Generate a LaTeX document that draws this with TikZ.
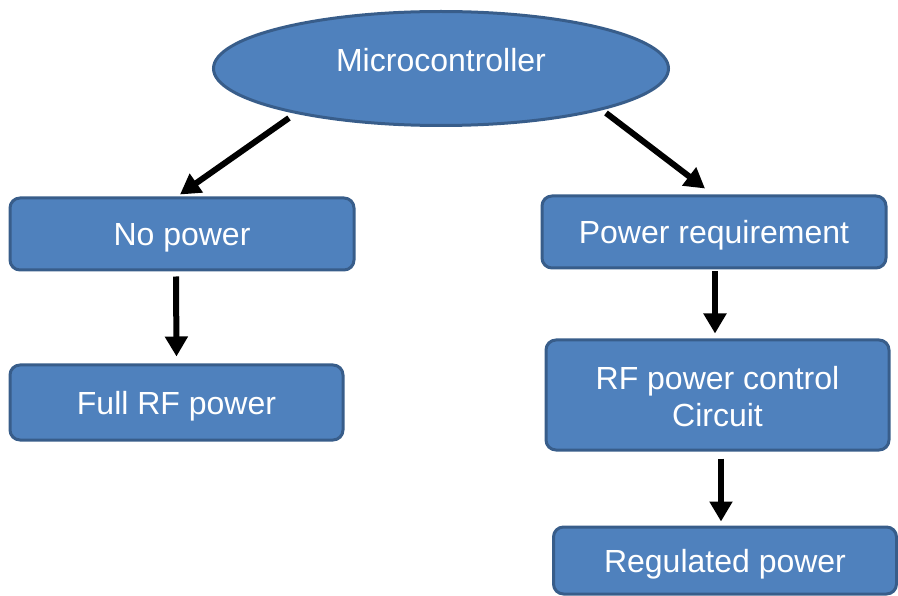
\documentclass[tikz,border=0pt]{standalone}
\usepackage{fontspec}
\setmainfont{Liberation Sans}
\usetikzlibrary{shapes.geometric,arrows.meta,calc}
\definecolor{boxfill}{HTML}{4F81BD}
\definecolor{boxline}{HTML}{385D8A}
\tikzset{
  box/.style={draw=boxline, line width=3pt, fill=boxfill, rounded corners=10pt,
    text=white, font=\fontsize{32}{37}\selectfont, align=center, inner sep=0pt,
    text height=23pt, text depth=0pt},
  oval/.style={ellipse, draw=boxline, line width=3pt, fill=boxfill, inner sep=0pt},
  lbl/.style={text=white, font=\fontsize{32}{37}\selectfont, inner sep=0pt,
    text height=23pt, text depth=0pt},
  arr/.style={line width=6pt, -{Triangle[width=22pt,length=20pt]}, black},
}
\begin{document}
\begin{tikzpicture}[x=1pt,y=-1pt]
\clip (0,0) rectangle (898,596);
\useasboundingbox (0,0) rectangle (898,596);
\node[oval, minimum width=455pt, minimum height=114pt] (mc) at (441,68.5) {};
\node[lbl] (mct) at (441,60) {Microcontroller};
\node[box, minimum width=344pt, minimum height=72pt] (np) at (182,234) {No power};
\node[box, minimum width=333pt, minimum height=75pt] (fr) at (176.5,402.5) {Full RF power};
\node[box, minimum width=344pt, minimum height=72pt] (pr) at (714,232) {Power requirement};
\node[box, minimum width=343pt, minimum height=110pt, text height=63pt] (rf) at (717.5,395) {RF power control\\Circuit};
\node[box, minimum width=343pt, minimum height=67pt] (rp) at (725,560.5) {Regulated power};
\draw[arr] ($(mc.center)+(-152,49.5)$) -- ($(np.north)+(-2,-2)$);
\draw[arr] ($(mc.center)+(165,44.5)$) -- ($(pr.north)+(-9,-6)$);
\draw[arr] ($(np.south)+(-6,5)$) -- ($(fr.north)+(0,-7)$);
\draw[arr] ($(pr.south)+(1,2)$) -- ($(rf.north)+(-2.5,-5)$);
\draw[arr] ($(rf.south)+(3.5,7)$) -- ($(rp.north)+(-4,-4)$);
\end{tikzpicture}
\end{document}
